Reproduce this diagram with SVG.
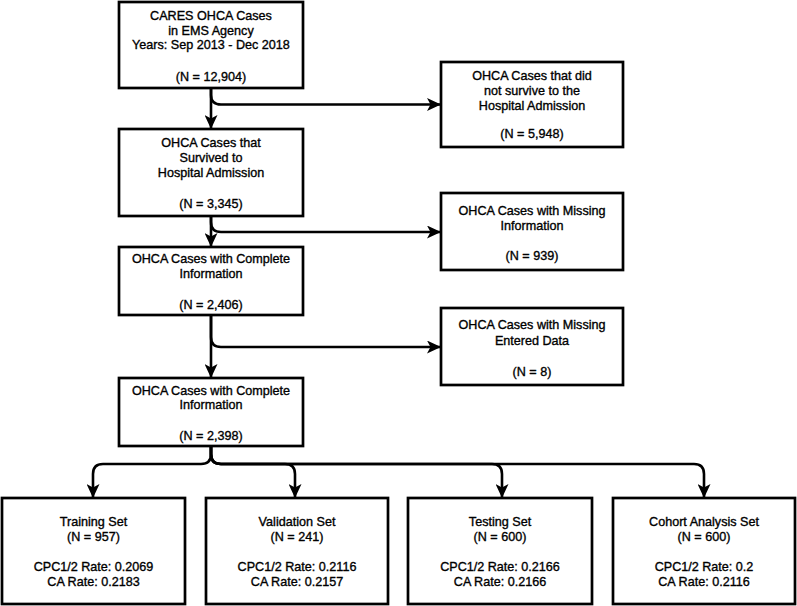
<svg xmlns="http://www.w3.org/2000/svg" width="797" height="606" viewBox="0 0 797 606">
<style>
.box{fill:#fff;stroke:#000;stroke-width:2.7}
text{font-family:"Liberation Sans",Arial,Helvetica,sans-serif;font-size:12.6px;fill:#000;stroke:#000;stroke-width:0.35;text-anchor:middle}
.edge{fill:none;stroke:#000;stroke-width:2.6}
</style>
<defs>
<marker id="arr" viewBox="0 0 14 13" refX="13" refY="6.5" markerWidth="14" markerHeight="13" markerUnits="userSpaceOnUse" orient="auto">
<path d="M0,0 L14,6.5 L0,13 L3.5,6.5 Z" fill="#000"/>
</marker>
</defs>
<rect width="797" height="606" fill="#fff"/>
<g id="connectors">
<path class="edge" d="M211,88 V128" marker-end="url(#arr)"/>
<path class="edge" d="M211,88 V95 Q211,104.5 221,104.5 H440" marker-end="url(#arr)"/>
<path class="edge" d="M211,216 V222 Q211,232 221,232 H440" marker-end="url(#arr)"/>
<path class="edge" d="M211,216 V246" marker-end="url(#arr)"/>
<path class="edge" d="M211,315 V377" marker-end="url(#arr)"/>
<path class="edge" d="M211,315 V337 Q211,347 221,347 H440" marker-end="url(#arr)"/>
<path class="edge" d="M211,446 V454 Q211,464 201,464 H103 Q93,464 93,474 V497" marker-end="url(#arr)"/>
<path class="edge" d="M211,446 V454 Q211,464 221,464 H285 Q295,464 295,474 V497" marker-end="url(#arr)"/>
<path class="edge" d="M211,446 V454 Q211,464 221,464 H492 Q502,464 502,474 V497" marker-end="url(#arr)"/>
<path class="edge" d="M211,446 V454 Q211,464 221,464 H694 Q704,464 704,474 V497" marker-end="url(#arr)"/>
</g>
<g id="n1">
<rect class="box" x="119" y="2" width="184" height="86"/>
<text x="211" y="19.5">CARES OHCA Cases</text>
<text x="211" y="34.5">in EMS Agency</text>
<text x="211" y="49">Years: Sep 2013 - Dec 2018</text>
<text x="211" y="80.5">(N = 12,904)</text>
</g>
<g id="n2">
<rect class="box" x="119" y="129" width="184" height="87"/>
<text x="211" y="147">OHCA Cases that</text>
<text x="211" y="162">Survived to</text>
<text x="211" y="177">Hospital Admission</text>
<text x="211" y="208">(N = 3,345)</text>
</g>
<g id="n3">
<rect class="box" x="119" y="247" width="184" height="68"/>
<text x="211" y="263">OHCA Cases with Complete</text>
<text x="211" y="278">Information</text>
<text x="211" y="309">(N = 2,406)</text>
</g>
<g id="n4">
<rect class="box" x="119" y="378" width="184" height="68"/>
<text x="211" y="394.5">OHCA Cases with Complete</text>
<text x="211" y="409">Information</text>
<text x="211" y="439.5">(N = 2,398)</text>
</g>
<g id="nA">
<rect class="box" x="441" y="62" width="182" height="85"/>
<text x="532" y="79.5">OHCA Cases that did</text>
<text x="532" y="95">not survive to the</text>
<text x="532" y="109.5">Hospital Admission</text>
<text x="532" y="137.5">(N = 5,948)</text>
</g>
<g id="nB">
<rect class="box" x="441" y="193" width="182" height="77"/>
<text x="532" y="214.5">OHCA Cases with Missing</text>
<text x="532" y="229.5">Information</text>
<text x="532" y="259.5">(N = 939)</text>
</g>
<g id="nC">
<rect class="box" x="441" y="308" width="182" height="77"/>
<text x="532" y="328.5">OHCA Cases with Missing</text>
<text x="532" y="344.5">Entered Data</text>
<text x="532" y="376">(N = 8)</text>
</g>
<g id="train">
<rect class="box" x="2" y="498" width="183" height="106"/>
<text x="93.5" y="526">Training Set</text>
<text x="93.5" y="541">(N = 957)</text>
<text x="93.5" y="571">CPC1/2 Rate: 0.2069</text>
<text x="93.5" y="586">CA Rate: 0.2183</text>
</g>
<g id="valid">
<rect class="box" x="206" y="498" width="182" height="106"/>
<text x="297" y="526">Validation Set</text>
<text x="297" y="541">(N = 241)</text>
<text x="297" y="571">CPC1/2 Rate: 0.2116</text>
<text x="297" y="586">CA Rate: 0.2157</text>
</g>
<g id="test">
<rect class="box" x="408" y="498" width="184" height="106"/>
<text x="500" y="526">Testing Set</text>
<text x="500" y="541">(N = 600)</text>
<text x="500" y="571">CPC1/2 Rate: 0.2166</text>
<text x="500" y="586">CA Rate: 0.2166</text>
</g>
<g id="cohort">
<rect class="box" x="613" y="498" width="182" height="106"/>
<text x="704" y="526">Cohort Analysis Set</text>
<text x="704" y="541">(N = 600)</text>
<text x="704" y="571">CPC1/2 Rate: 0.2</text>
<text x="704" y="586">CA Rate: 0.2116</text>
</g>
</svg>
